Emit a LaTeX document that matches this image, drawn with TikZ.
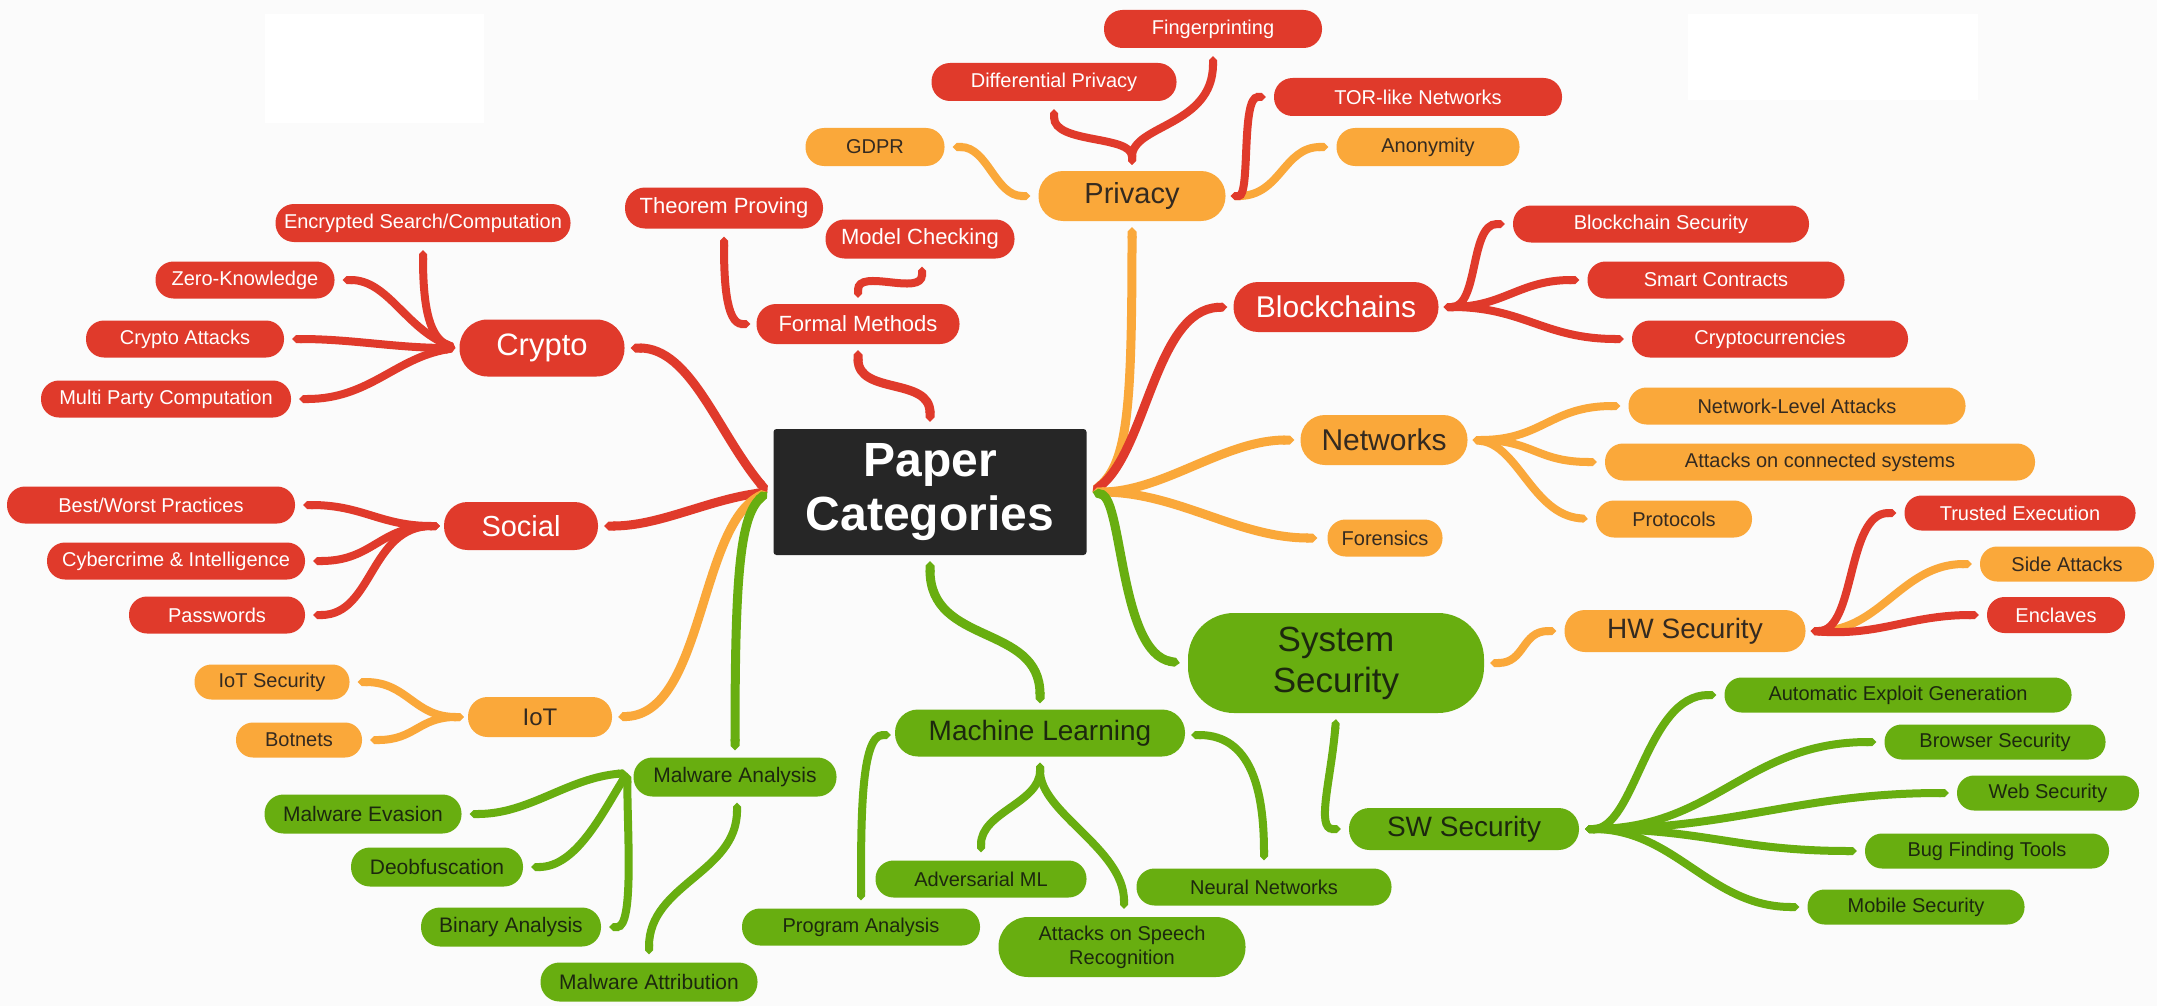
\documentclass[tikz,border=0pt]{standalone}
\usepackage{fontspec}
\setmainfont{Liberation Sans}
\usetikzlibrary{arrows.meta,calc}
\definecolor{cred}{RGB}{224,58,43}
\definecolor{corange}{RGB}{250,168,58}
\definecolor{cgreen}{RGB}{104,174,16}
\definecolor{chub}{RGB}{38,38,38}
\definecolor{ctxt}{RGB}{52,42,32}
\definecolor{cgtxt}{RGB}{28,40,14}
\definecolor{cbg}{RGB}{251,251,251}
\pgfdeclarelayer{bg}
\pgfsetlayers{bg,main}
\begin{document}
\begin{tikzpicture}[x=1pt,y=-1pt,
  bx/.style={inner sep=0pt, align=center},
  sz/.style n args={2}{minimum width=#1, minimum height=#2, rounded corners={0.5*#2-0.5}},
  rnode/.style={bx, fill=cred, text=white},
  onode/.style={bx, fill=corange, text=ctxt},
  gnode/.style={bx, fill=cgreen, text=cgtxt},
  fa/.style={font=\fontsize{20}{24}\selectfont},
  fb/.style={font=\fontsize{22}{26}\selectfont},
  fc/.style={font=\fontsize{29}{34}\selectfont},
  conn/.style={line width=8pt, arrows={Triangle Cap[]-Triangle Cap[]}},
  conR/.style={conn, draw=cred},
  conO/.style={conn, draw=corange},
  conG/.style={conn, draw=cgreen},
  mainc/.style={line width=9pt}
]
\useasboundingbox (0,0) rectangle (2157,1006);

% ---------- nodes ----------
\node[bx, fill=chub, text=white, minimum width=313, minimum height=126, rounded corners=3,
      font=\bfseries\fontsize{48}{54}\selectfont] (hub) at (930,492) {Paper\\Categories};

% crypto
\node[rnode, sz={165}{57}, font=\fontsize{31}{36}\selectfont] (crypto) at (542,348) {Crypto};
\node[rnode, sz={295}{38}, fa] (encs) at (423,223) {Encrypted Search/Computation};
\node[rnode, sz={179}{37}, fa] (zk) at (245,280) {Zero-Knowledge};
\node[rnode, sz={198}{37}, fa] (cattacks) at (185,339) {Crypto Attacks};
\node[rnode, sz={250}{37}, fa] (mpc) at (166,399) {Multi Party Computation};

% social
\node[rnode, sz={154}{48}, fc] (social) at (521,526) {Social};
\node[rnode, sz={288}{37}, fa] (bwp) at (151,505) {Best/Worst Practices};
\node[rnode, sz={258}{37}, fa] (cyber) at (176,561) {Cybercrime \& Intelligence};
\node[rnode, sz={176}{37}, fa] (pw) at (217,615) {Passwords};

% iot
\node[onode, sz={144}{40}, font=\fontsize{24}{28}\selectfont] (iot) at (540,717) {IoT};
\node[onode, sz={155}{35}, fa] (iotsec) at (272,682) {IoT Security};
\node[onode, sz={126}{35}, fa] (botnets) at (299,740) {Botnets};

% malware
\node[gnode, sz={203}{39}, font=\fontsize{21}{25}\selectfont] (ma) at (735,777) {Malware Analysis};
\node[gnode, sz={197}{39}, font=\fontsize{21}{25}\selectfont] (mev) at (363,814) {Malware Evasion};
\node[gnode, sz={172}{39}, font=\fontsize{21}{25}\selectfont] (deob) at (437,867) {Deobfuscation};
\node[gnode, sz={180}{39}, font=\fontsize{21}{25}\selectfont] (bin) at (511,927) {Binary Analysis};
\node[gnode, sz={217}{39}, font=\fontsize{21}{25}\selectfont] (mattr) at (649,982) {Malware Attribution};

% formal methods
\node[rnode, sz={203}{40}, fb] (fm) at (858,324) {Formal Methods};
\node[rnode, sz={198}{41}, fb] (tp) at (724,208) {Theorem Proving};
\node[rnode, sz={189}{39}, fb] (mc) at (920,239) {Model Checking};

% privacy
\node[onode, sz={187}{50}, fc] (privacy) at (1132,196) {Privacy};
\node[onode, sz={139}{38}, fa] (gdpr) at (875,147) {GDPR};
\node[rnode, sz={245}{38}, fa] (dp) at (1054,82) {Differential Privacy};
\node[rnode, sz={218}{38}, fa] (fp) at (1213,29) {Fingerprinting};
\node[rnode, sz={288}{38}, fa] (tor) at (1418,97) {TOR-like Networks};
\node[onode, sz={183}{38}, fa] (anon) at (1428,147) {Anonymity};

% machine learning
\node[gnode, sz={290}{47}, font=\fontsize{28}{33}\selectfont] (ml) at (1040,733) {Machine Learning};
\node[gnode, sz={211}{37}, fa] (advml) at (981,879) {Adversarial ML};
\node[gnode, sz={238}{37}, fa] (prog) at (861,927) {Program Analysis};
\node[gnode, sz={247}{60}, fa] (speech) at (1122,947) {Attacks on Speech\\Recognition};
\node[gnode, sz={255}{37}, fa] (nn) at (1264,887) {Neural Networks};

% blockchains
\node[rnode, sz={205}{50}, font=\fontsize{30}{35}\selectfont] (blockchains) at (1336,307) {Blockchains};
\node[rnode, sz={296}{37}, fa] (bsec) at (1661,224) {Blockchain Security};
\node[rnode, sz={257}{37}, fa] (smart) at (1716,280) {Smart Contracts};
\node[rnode, sz={276}{37}, fa] (ccur) at (1770,339) {Cryptocurrencies};

% networks
\node[onode, sz={167}{50}, font=\fontsize{30}{35}\selectfont] (networks) at (1384,440) {Networks};
\node[onode, sz={337}{37}, fa] (nla) at (1797,406) {Network-Level Attacks};
\node[onode, sz={430}{37}, fa] (aocs) at (1820,462) {Attacks on connected systems};
\node[onode, sz={156}{37}, fa] (protocols) at (1674,519) {Protocols};
\node[onode, sz={115}{37}, fa] (forensics) at (1385,538) {Forensics};

% system security
\node[gnode, minimum width=296, minimum height=100, rounded corners=46,
      font=\fontsize{35}{41}\selectfont] (sys) at (1336,663) {System\\Security};
\node[onode, sz={241}{42}, font=\fontsize{28}{33}\selectfont] (hw) at (1685,631) {HW Security};
\node[rnode, sz={231}{35}, fa] (trusted) at (2020,513) {Trusted Execution};
\node[onode, sz={174}{35}, fa] (side) at (2067,564) {Side Attacks};
\node[rnode, sz={138}{36}, fa] (encl) at (2056,615) {Enclaves};
\node[gnode, sz={230}{42}, font=\fontsize{28}{33}\selectfont] (sw) at (1464,829) {SW Security};
\node[gnode, sz={347}{35}, fa] (aeg) at (1898,695) {Automatic Exploit Generation};
\node[gnode, sz={221}{35}, fa] (browser) at (1995,742) {Browser Security};
\node[gnode, sz={182}{35}, fa] (web) at (2048,793) {Web Security};
\node[gnode, sz={244}{35}, fa] (bug) at (1987,851) {Bug Finding Tools};
\node[gnode, sz={217}{35}, fa] (mobile) at (1916,907) {Mobile Security};

% ---------- junction points ----------
\coordinate (hl) at ($(hub.west)+(-6,0)$);
\coordinate (hr) at ($(hub.east)+(6,0)$);
\coordinate (ht) at ($(hub.north)+(0,-7)$);
\coordinate (hb) at ($(hub.south)+(0,6)$);
\coordinate (cw) at ($(crypto.west)+(-4,0)$);
\coordinate (sc) at ($(social.west)+(-4,0)$);
\coordinate (ic) at ($(iot.west)+(-4,0)$);
\coordinate (mac) at ($(ma.west)+(-6,-4)$);
\coordinate (bc) at ($(blockchains.east)+(5,0)$);
\coordinate (nc) at ($(networks.east)+(5,0)$);
\coordinate (hc) at ($(hw.east)+(5,0)$);
\coordinate (swc) at ($(sw.east)+(6,0)$);
\coordinate (pt) at ($(privacy.north)+(0,-6)$);
\coordinate (pr) at ($(privacy.east)+(5,0)$);
\coordinate (mlb) at ($(ml.south)+(0,6)$);

% ---------- connectors ----------
\begin{pgfonlayer}{bg}
\fill[cbg] (0,0) rectangle (2157,1006);
\fill[white] (265,14) rectangle (484,123);
\fill[white] (1688,14) rectangle (1978,100);

% main branches
\draw[conR, mainc] ($(crypto.east)+(6,0)$) .. controls +(60,0) and +(-50,-60) .. (hl);
\draw[conR, mainc] ($(social.east)+(6,0)$) .. controls +(55,0) and +(-60,8) .. (hl);
\draw[conO, mainc] ($(iot.east)+(6,0)$) .. controls +(85,-5) and +(-68,35) .. (hl);
\draw[conG, mainc] ($(ma.north)+(0,-7)$) .. controls +(0,-170) and +(-28,25) .. (hl);
\draw[conR, mainc] ($(fm.south)+(0,6)$) .. controls +(0,45) and +(0,-45) .. (ht);
\draw[conG, mainc] (hb) .. controls +(0,85) and +(0,-80) .. ($(ml.north)+(0,-6)$);
\draw[conO, mainc] ($(privacy.south)+(0,6)$) .. controls +(0,180) and +(35,-30) .. (hr);
\draw[conR, mainc] ($(blockchains.west)+(-6,0)$) .. controls +(-72,3) and +(54,-42) .. (hr);
\draw[conO, mainc] ($(networks.west)+(-6,0)$) .. controls +(-70,0) and +(70,0) .. (hr);
\draw[conO, mainc] (hr) .. controls +(85,0) and +(-80,0) .. ($(forensics.west)+(-10,0)$);
\draw[conG, mainc] (hr) .. controls +(30,8) and +(-60,-10) .. ($(sys.west)+(-8,0)$);

% privacy
\draw[conO] ($(gdpr.east)+(8,0)$) .. controls +(35,0) and +(-35,0) .. ($(privacy.west)+(-8,0)$);
\draw[conR] (pt) .. controls +(0,-30) and +(0,35) .. ($(dp.south)+(0,8)$);
\draw[conR] (pt) .. controls +(0,-40) and +(0,70) .. ($(fp.south)+(0,8)$);
\draw[conO] (pr) .. controls +(50,0) and +(-45,0) .. ($(anon.west)+(-8,0)$);
\draw[conR] (pr) .. controls +(20,0) and +(-25,0) .. ($(tor.west)+(-8,0)$);

% crypto
\draw[conR] ($(encs.south)+(0,8)$) .. controls +(0,60) and +(-25,-10) .. (cw);
\draw[conR] ($(zk.east)+(8,0)$) .. controls +(45,0) and +(-50,-20) .. (cw);
\draw[conR] ($(cattacks.east)+(8,0)$) .. controls +(60,0) and +(-60,0) .. (cw);
\draw[conR] ($(mpc.east)+(8,0)$) .. controls +(70,0) and +(-60,10) .. (cw);

% formal methods
\draw[conR] ($(fm.west)+(-6,0)$) .. controls +(-25,0) and +(0,40) .. ($(tp.south)+(0,8)$);
\draw[conR] ($(fm.north)+(0,-6)$) .. controls +(0,-30) and +(0,30) .. ($(mc.south)+(2,8)$);

% blockchains
\draw[conR] (bc) .. controls +(35,0) and +(-35,0) .. ($(bsec.west)+(-8,0)$);
\draw[conR] (bc) .. controls +(60,0) and +(-60,0) .. ($(smart.west)+(-8,0)$);
\draw[conR] (bc) .. controls +(80,0) and +(-80,0) .. ($(ccur.west)+(-8,0)$);

% networks
\draw[conO] (nc) .. controls +(70,0) and +(-70,0) .. ($(nla.west)+(-8,0)$);
\draw[conO] (nc) .. controls +(60,0) and +(-60,0) .. ($(aocs.west)+(-8,0)$);
\draw[conO] (nc) .. controls +(45,5) and +(-55,-5) .. ($(protocols.west)+(-8,0)$);

% system security
\draw[conO] ($(sys.east)+(6,0)$) .. controls +(35,0) and +(-35,0) .. ($(hw.west)+(-8,0)$);
\draw[conG] ($(sys.south)+(0,6)$) .. controls +(-5,60) and +(-25,0) .. ($(sw.west)+(-8,0)$);

% hw security
\draw[conO] (hc) .. controls +(70,0) and +(-70,0) .. ($(side.west)+(-8,0)$);
\draw[conR] (hc) .. controls +(45,0) and +(-50,0) .. ($(trusted.west)+(-8,0)$);
\draw[conR] (hc) .. controls +(70,5) and +(-70,0) .. ($(encl.west)+(-8,0)$);

% sw security
\draw[conG] (swc) .. controls +(50,0) and +(-70,0) .. ($(aeg.west)+(-8,0)$);
\draw[conG] (swc) .. controls +(130,0) and +(-130,0) .. ($(browser.west)+(-8,0)$);
\draw[conG] (swc) .. controls +(150,0) and +(-150,0) .. ($(web.west)+(-8,0)$);
\draw[conG] (swc) .. controls +(120,0) and +(-120,0) .. ($(bug.west)+(-8,0)$);
\draw[conG] (swc) .. controls +(90,0) and +(-90,0) .. ($(mobile.west)+(-8,0)$);

% social
\draw[conR] ($(bwp.east)+(8,0)$) .. controls +(60,0) and +(-60,0) .. (sc);
\draw[conR] ($(cyber.east)+(8,0)$) .. controls +(60,0) and +(-60,0) .. (sc);
\draw[conR] ($(pw.east)+(8,0)$) .. controls +(60,0) and +(-70,0) .. (sc);

% iot
\draw[conO] ($(iotsec.east)+(8,0)$) .. controls +(50,0) and +(-50,0) .. (ic);
\draw[conO] ($(botnets.east)+(8,0)$) .. controls +(45,0) and +(-45,0) .. (ic);

% malware analysis
\draw[conG] ($(mev.east)+(8,0)$) .. controls +(60,0) and +(-60,5) .. (mac);
\draw[conG] ($(deob.east)+(8,0)$) .. controls +(45,0) and +(-25,40) .. (mac);
\draw[conG] ($(bin.east)+(8,0)$) .. controls +(25,0) and +(0,60) .. (mac);
\draw[conG] ($(ma.south)+(2,6)$) .. controls +(0,70) and +(0,-70) .. ($(mattr.north)+(0,-8)$);

% machine learning
\draw[conG] ($(ml.west)+(-4,2)$) .. controls +(-30,0) and +(0,-80) .. ($(prog.north)+(0,-8)$);
\draw[conG] (mlb) .. controls +(0,40) and +(0,-40) .. ($(advml.north)+(0,-8)$);
\draw[conG] (mlb) .. controls +(0,50) and +(0,-60) .. ($(speech.north)+(2,-8)$);
\draw[conG] ($(ml.east)+(6,2)$) .. controls +(60,0) and +(0,-70) .. ($(nn.north)+(0,-8)$);
\end{pgfonlayer}
\end{tikzpicture}
\end{document}
